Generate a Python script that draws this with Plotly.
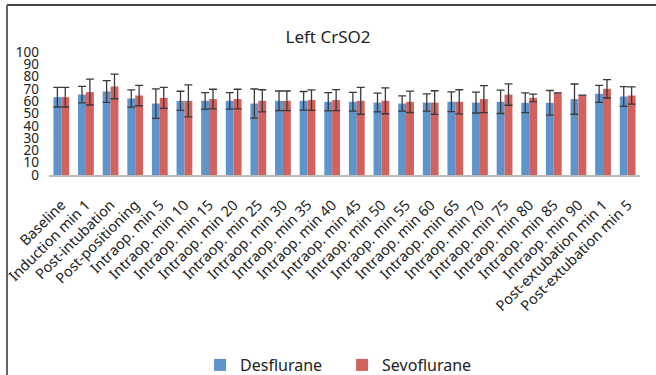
import plotly.graph_objects as go

categories = ["Baseline", "Induction min 1", "Post-intubation", "Post-positioning",
              "Intraop. min 5", "Intraop. min 10", "Intraop. min 15", "Intraop. min 20",
              "Intraop. min 25", "Intraop. min 30", "Intraop. min 35", "Intraop. min 40",
              "Intraop. min 45", "Intraop. min 50", "Intraop. min 55", "Intraop. min 60",
              "Intraop. min 65", "Intraop. min 70", "Intraop. min 75", "Intraop. min 80",
              "Intraop. min 85", "Intraop. min 90", "Post-extubation min 1", "Post-extubation min 5"]

des_mean = [63.3, 65.4, 67.9, 62.2, 58.1, 60.3, 60.3, 60.3, 58.1, 60.3, 60.3, 59.5,
            59.5, 58.9, 58.1, 58.9, 59.5, 58.9, 59.5, 58.7, 58.7, 61.7, 66.0, 63.8]
des_sd = [8.0, 6.7, 8.8, 7.0, 12.0, 7.8, 6.7, 6.7, 11.8, 8.0, 7.6, 7.4,
          7.6, 7.6, 6.2, 7.0, 8.0, 8.5, 9.5, 8.0, 10.0, 12.3, 6.9, 8.0]

sevo_mean = [63.3, 67.4, 72.0, 64.6, 62.7, 60.3, 61.7, 61.7, 60.3, 60.3, 60.9, 60.9,
             60.3, 60.3, 59.5, 58.9, 59.5, 61.7, 65.4, 62.7, 66.8, 64.9, 70.1, 64.6]
sevo_sd = [8.0, 10.5, 10.0, 8.3, 8.5, 13.0, 8.0, 8.0, 9.0, 8.0, 8.3, 8.5,
           10.9, 10.5, 8.7, 9.6, 9.8, 11.0, 8.7, 3.0, 0, 0, 7.5, 7.0]

y_ticks = [0, 10, 20, 30, 40, 50, 60, 70, 80, 90, 100]

FONT = "Noto Sans"
err_style = dict(type="data", color="#3a3a3a", thickness=1.3, width=4)

fig = go.Figure()
fig.add_trace(go.Bar(x=categories, y=des_mean, name="Desflurane",
                     marker=dict(color="#5E93CC", line=dict(width=0)),
                     error_y=dict(array=des_sd, **err_style)))
fig.add_trace(go.Bar(x=categories, y=sevo_mean, name="Sevoflurane",
                     marker=dict(color="#D1625E", line=dict(width=0)),
                     error_y=dict(array=sevo_sd, **err_style)))

PLOT_TOP, PLOT_BOTTOM, PLOT_LEFT, PLOT_W = 52, 175.3, 49, 591
PLOT_H = PLOT_BOTTOM - PLOT_TOP

fig.update_layout(
    width=656, height=375,
    margin=dict(l=PLOT_LEFT, r=656 - PLOT_LEFT - PLOT_W, t=PLOT_TOP, b=375 - PLOT_BOTTOM,
                autoexpand=False),
    paper_bgcolor="white", plot_bgcolor="white",
    barmode="group", bargap=0.36, bargroupgap=0,
    font=dict(family=FONT, color="#222"),
    title=dict(text="Left CrSO2", x=0.5, xanchor="center", y=1 - 37 / 375, yanchor="middle",
               xref="container", yref="container", font=dict(size=17, color="#222")),
    showlegend=True,
    legend=dict(orientation="h", xref="container", yref="container",
                x=0.305, xanchor="left", y=1 - 365 / 375, yanchor="middle",
                font=dict(size=16, color="#222"), itemwidth=30,
                entrywidth=97, entrywidthmode="pixels"),
    xaxis=dict(showgrid=False, showline=True, linecolor="#bbbbbb", linewidth=1.5,
               ticks="", tickangle=-45, ticklabelstandoff=14,
               tickfont=dict(size=14.5, color="#222")),
    yaxis=dict(range=[0, 100], tickvals=y_ticks, showgrid=False, zeroline=False,
               showline=False, ticks="", ticklabelstandoff=9,
               tickfont=dict(size=13.5, color="#222")),
)

# chart-area border (top and left edges visible in the reference)
top_y = (PLOT_BOTTOM - 5) / PLOT_H
left_x = (7 - PLOT_LEFT) / PLOT_W
fig.add_shape(type="line", xref="paper", yref="paper",
              x0=left_x, x1=(660 - PLOT_LEFT) / PLOT_W, y0=top_y, y1=top_y,
              line=dict(color="#444", width=2))
fig.add_shape(type="line", xref="paper", yref="paper",
              x0=left_x, x1=left_x, y0=top_y, y1=(PLOT_BOTTOM - 380) / PLOT_H,
              line=dict(color="#666", width=2))

fig.write_html("out.html", config={"displayModeBar": False},
               post_script="document.body.style.margin='0';document.body.style.overflow='hidden';")
